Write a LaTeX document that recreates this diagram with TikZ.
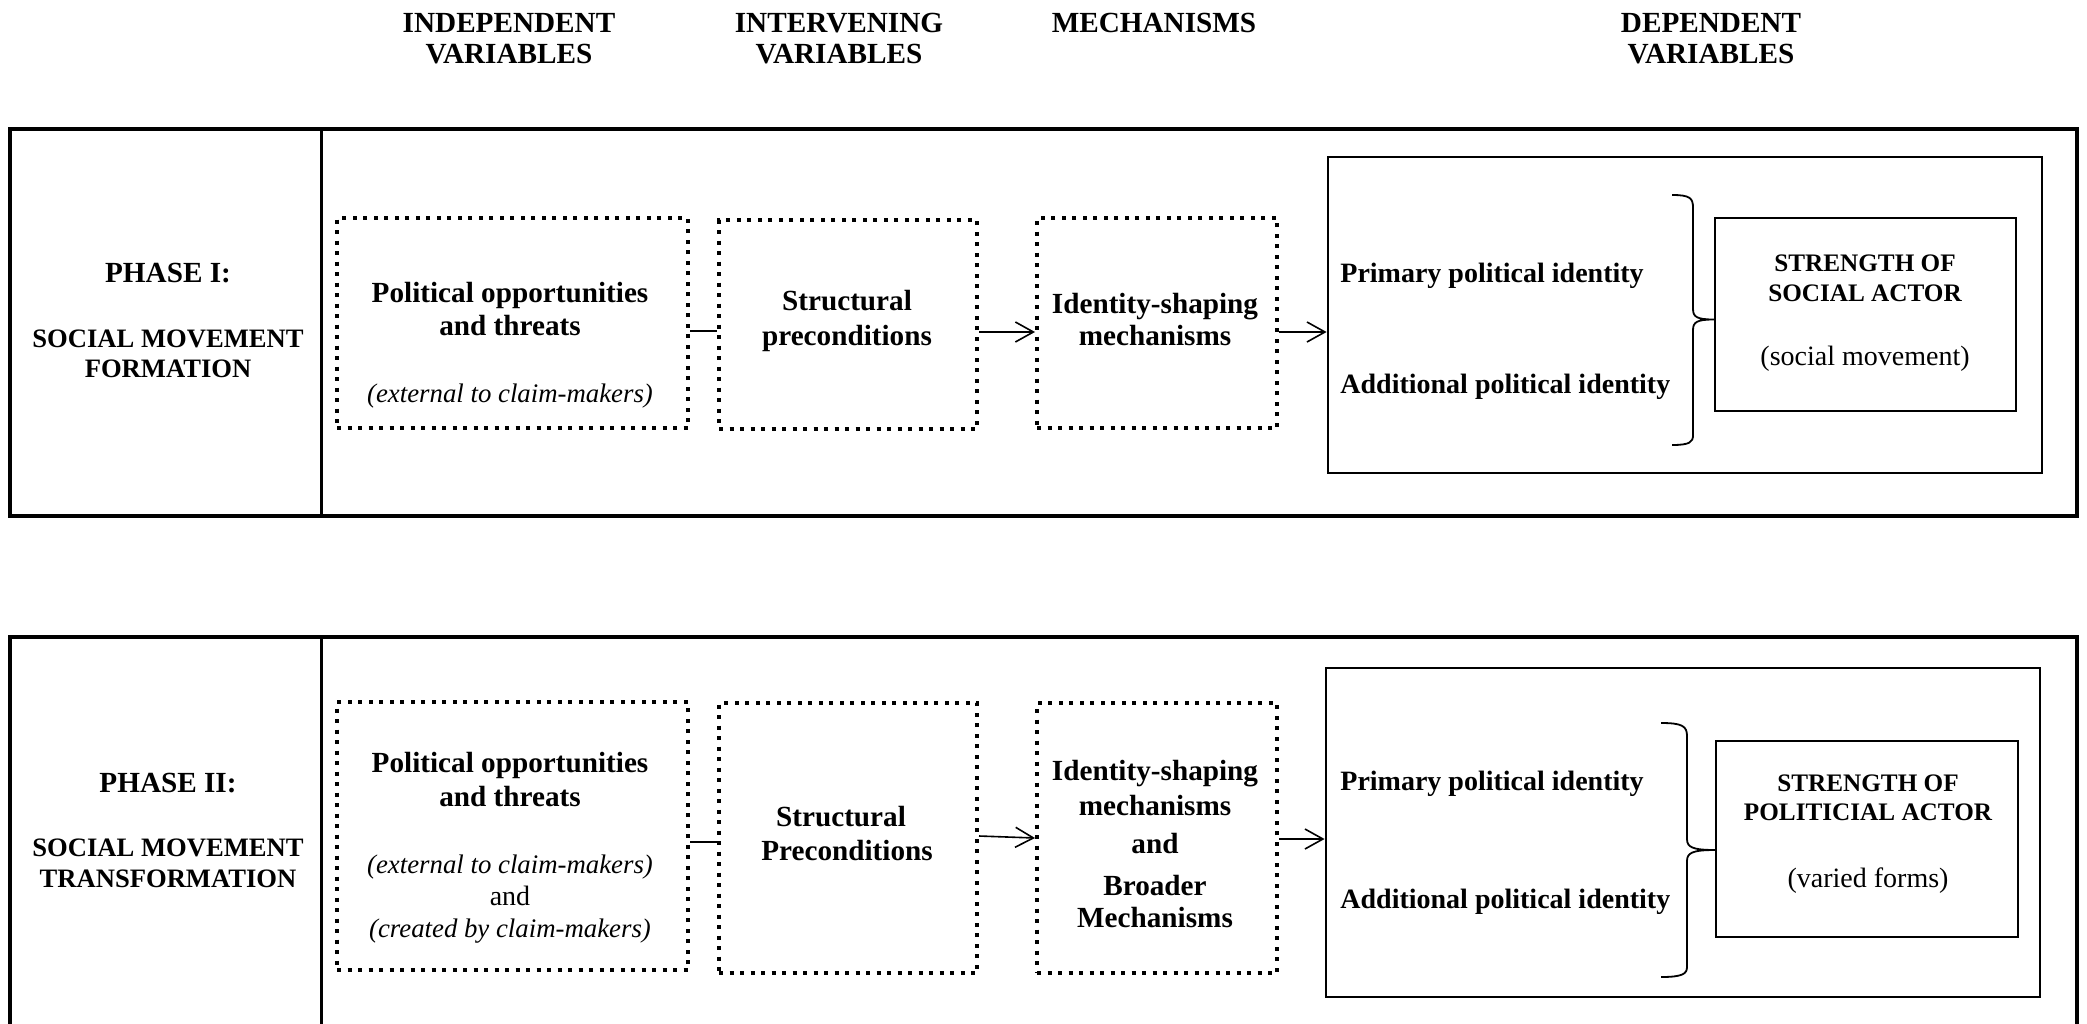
\documentclass[tikz,border=0pt]{standalone}
\usepackage{fontspec}
\setmainfont{Liberation Serif}
\usetikzlibrary{arrows.meta}

\tikzset{
  frame/.style={draw, line width=1.7pt, inner sep=0pt},
  divider/.style={line width=1.6pt},
  dotbox/.style={draw, line width=2pt, dash pattern=on 2pt off 3.25pt, inner sep=0pt},
  dvbox/.style={draw, line width=1.4pt, inner sep=0pt},
  actbox/.style={draw, line width=1pt, inner sep=0pt},
  link/.style={line width=0.8pt},
  flow/.style={line width=0.8pt, -{Straight Barb[length=9pt, width=10pt]}},
  idbrace/.style={line width=0.9pt, line join=round},
  txt/.style={inner sep=0pt, anchor=base},
  bfline/.style={txt, font=\fontsize{14.6}{17}\selectfont\bfseries},
  phase/.style={txt, font=\fontsize{13.3}{16}\selectfont\bfseries},
  dvtext/.style={inner sep=0pt, anchor=base west, font=\fontsize{14}{16}\selectfont\bfseries},
  caps/.style={txt, font=\fontsize{12.6}{15}\selectfont\bfseries},
  note/.style={txt, font=\fontsize{13.4}{16}\selectfont\itshape},
  rmtext/.style={txt, font=\fontsize{14}{16}\selectfont},
}

\begin{document}
\begin{tikzpicture}[x=0.5pt, y=-0.5pt]
\useasboundingbox (0,0) rectangle (2087,1023);
\clip (0,0) rectangle (2087,1023);

% column headings
\node[bfline] (hIa) at (509,32) {INDEPENDENT};
\node[bfline] (hIb) at (509,63) {VARIABLES};
\node[bfline] (hVa) at (839,32) {INTERVENING};
\node[bfline] (hVb) at (839,63) {VARIABLES};
\node[bfline] (hM)  at (1154,32) {MECHANISMS};
\node[bfline] (hDa) at (1711,32) {DEPENDENT};
\node[bfline] (hDb) at (1711,63) {VARIABLES};

% ---------------- Phase I ----------------
\node[frame, minimum width=1033.5pt, minimum height=193.5pt] (f1) at (1043.5,322.5) {};
\draw[divider] ([xshift=156.5pt]f1.north west) -- ([xshift=156.5pt]f1.south west);

\node[bfline] (p1a) at (168,282) {PHASE I:};
\node[phase]  (p1b) at (168,347) {SOCIAL MOVEMENT};
\node[phase]  (p1c) at (168,377) {FORMATION};

\node[dotbox, minimum width=175.5pt, minimum height=105pt] (a1) at (512.5,323) {};
\node[dotbox, minimum width=129pt, minimum height=104.5pt] (b1) at (848,324.5) {};
\node[dotbox, minimum width=120pt, minimum height=105pt] (c1) at (1157,323) {};
\node[dvbox, minimum width=357pt, minimum height=158pt] (d1) at (1685,315) {};
\node[actbox, minimum width=150.5pt, minimum height=96.5pt] (s1) at (1865.5,314.5) {};

\node[bfline] (a1t1) at (510,302) {Political opportunities};
\node[bfline] (a1t2) at (510,335) {and threats};
\node[note]   (a1t3) at (510,402) {(external to claim-makers)};

\node[bfline] (b1t1) at (847,310) {Structural};
\node[bfline] (b1t2) at (847,345) {preconditions};

\node[bfline] (c1t1) at (1155,313) {Identity-shaping};
\node[bfline] (c1t2) at (1155,345) {mechanisms};

\node[dvtext] (d1t1) at (1340,282) {Primary political identity};
\node[dvtext] (d1t2) at (1340,393) {Additional political identity};

\node[caps]   (s1t1) at (1865,271) {STRENGTH OF};
\node[caps]   (s1t2) at (1865,301) {SOCIAL ACTOR};
\node[rmtext] (s1t3) at (1865,365) {(social movement)};

\draw[link] ([yshift=-4pt]a1.east) -- ([yshift=-4pt]a1.east -| b1.west);
\draw[flow] ([yshift=-3.75pt]b1.east) -- ([yshift=-3.75pt]b1.east -| c1.west);
\draw[flow] ([yshift=-4.5pt]c1.east) -- ([yshift=-4.5pt]c1.east -| d1.west);

\coordinate (tip1) at ([yshift=-2.5pt]s1.west);
\draw[idbrace] (1672,195) .. controls (1690,195) and (1693,198) .. (1693,208)
  -- (1693,309) .. controls (1693,317) and (1697,319.5) .. (tip1)
  .. controls (1697,319.5) and (1693,322) .. (1693,330)
  -- (1693,435) .. controls (1693,442) and (1690,445) .. (1672,445);

% ---------------- Phase II ----------------
\node[frame, minimum width=1033.5pt, minimum height=201.5pt] (f2) at (1043.5,838.5) {};
\draw[divider] ([xshift=156.5pt]f2.north west) -- ([xshift=156.5pt]f2.south west);

\node[bfline] (p2a) at (168,792) {PHASE II:};
\node[phase]  (p2b) at (168,856) {SOCIAL MOVEMENT};
\node[phase]  (p2c) at (168,887) {TRANSFORMATION};

\node[dotbox, minimum width=175.5pt, minimum height=134pt] (a2) at (512.5,836) {};
\node[dotbox, minimum width=129pt, minimum height=135pt] (b2) at (848,838) {};
\node[dotbox, minimum width=120pt, minimum height=135pt] (c2) at (1157,838) {};
\node[dvbox, minimum width=357pt, minimum height=164.5pt] (d2) at (1683,832.5) {};
\node[actbox, minimum width=151pt, minimum height=98pt] (s2) at (1867,839) {};

\node[bfline] (a2t1) at (510,772) {Political opportunities};
\node[bfline] (a2t2) at (510,806) {and threats};
\node[note]   (a2t3) at (510,873) {(external to claim-makers)};
\node[rmtext] (a2t4) at (510,905) {and};
\node[note]   (a2t5) at (510,937) {(created by claim-makers)};

\node[bfline] (b2t1) at (841,826) {Structural};
\node[bfline] (b2t2) at (847,860) {Preconditions};

\node[bfline] (c2t1) at (1155,780) {Identity-shaping};
\node[bfline] (c2t2) at (1155,815) {mechanisms};
\node[bfline] (c2t3) at (1155,853) {and};
\node[bfline] (c2t4) at (1155,895) {Broader};
\node[bfline] (c2t5) at (1155,927) {Mechanisms};

\node[dvtext] (d2t1) at (1340,790) {Primary political identity};
\node[dvtext] (d2t2) at (1340,908) {Additional political identity};

\node[caps]   (s2t1) at (1868,791) {STRENGTH OF};
\node[caps]   (s2t2) at (1868,820) {POLITICIAL ACTOR};
\node[rmtext] (s2t3) at (1868,887) {(varied forms)};

\draw[link] ([yshift=-3pt]a2.east) -- ([yshift=-3pt]a2.east -| b2.west);
\draw[flow] ([yshift=1pt]b2.east) -- (c2.west);
\draw[flow] ([yshift=-0.5pt]c2.east) -- ([yshift=-0.5pt]c2.east -| d2.west);

\coordinate (tip2) at ([yshift=-5.5pt]s2.west);
\draw[idbrace] (1661,723) .. controls (1682,723) and (1687,726) .. (1687,736)
  -- (1687,839) .. controls (1687,847) and (1692,850) .. (tip2)
  .. controls (1692,850) and (1687,853) .. (1687,861)
  -- (1687,967) .. controls (1687,974) and (1682,977) .. (1661,977);
\end{tikzpicture}
\end{document}
